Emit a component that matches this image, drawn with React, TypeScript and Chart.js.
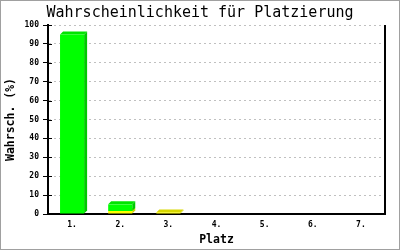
import React, { useEffect, useRef } from "react";
import { Chart, registerables } from "chart.js";

Chart.register(...registerables);

const categories = ["1.", "2.", "3.", "4.", "5.", "6.", "7."];
const yellowValues = [0, 1.6, 0.8, 0, 0, 0, 0];
const greenValues = [95, 3.5, 0, 0, 0, 0, 0];
const yTicks = [0, 10, 20, 30, 40, 50, 60, 70, 80, 90, 100];

const MONO = "'DejaVu Sans Mono', 'Liberation Mono', monospace";

const depthPlugin = {
  id: "depth3d",
  beforeDraw(chart: any) {
    const ctx = chart.ctx;
    ctx.save();
    ctx.fillStyle = "#ffffff";
    ctx.fillRect(0, 0, chart.width, chart.height);
    ctx.restore();
  },
  beforeDatasetsDraw(chart: any) {
    const ctx = chart.ctx;
    const d = 3;
    chart.data.datasets.forEach((ds: any, i: number) => {
      const meta = chart.getDatasetMeta(i);
      meta.data.forEach((el: any, j: number) => {
        const v = ds.data[j];
        if (!v) return;
        const p = el.getProps(["x", "y", "base", "width"], true);
        const l = p.x - p.width / 2;
        const r = p.x + p.width / 2;
        const t = Math.min(p.y, p.base);
        const b = Math.max(p.y, p.base);
        ctx.save();
        ctx.fillStyle = ds.sideColor;
        ctx.beginPath();
        ctx.moveTo(r, t);
        ctx.lineTo(r + d, t - d);
        ctx.lineTo(r + d, b - d);
        ctx.lineTo(r, b);
        ctx.closePath();
        ctx.fill();
        ctx.fillStyle = ds.topColor;
        ctx.beginPath();
        ctx.moveTo(l, t);
        ctx.lineTo(l + d, t - d);
        ctx.lineTo(r + d, t - d);
        ctx.lineTo(r, t);
        ctx.closePath();
        ctx.fill();
        ctx.restore();
      });
    });
  },
  afterDraw(chart: any) {
    const ctx = chart.ctx;
    const area = chart.chartArea;
    const ys = chart.scales.y;
    ctx.save();
    ctx.strokeStyle = "#000";
    ctx.lineWidth = 1;
    yTicks.forEach((t) => {
      const py = Math.round(ys.getPixelForValue(t)) + 0.5;
      ctx.beginPath();
      ctx.moveTo(area.left, py);
      ctx.lineTo(area.left + 4, py);
      ctx.stroke();
    });
    ctx.lineWidth = 2;
    ctx.beginPath();
    ctx.moveTo(area.right, area.top);
    ctx.lineTo(area.right, area.bottom);
    ctx.stroke();
    ctx.strokeStyle = "#a0a0a0";
    ctx.lineWidth = 1;
    ctx.strokeRect(0.5, 0.5, chart.width - 1, chart.height - 1);
    ctx.restore();
  },
};

export default function App() {
  const ref = useRef<HTMLCanvasElement | null>(null);
  useEffect(() => {
    document.body.style.margin = "0";
    const canvas = ref.current;
    if (!canvas) return;
    const chart = new Chart(canvas, {
      type: "bar",
      data: {
        labels: categories,
        datasets: [
          {
            label: "gelb",
            data: yellowValues,
            backgroundColor: "#ffff00",
            borderWidth: 0,
            sideColor: "#d0d000",
            topColor: "#d8d800",
          } as any,
          {
            label: "grün",
            data: greenValues,
            backgroundColor: "#00ff00",
            borderWidth: 0,
            sideColor: "#00c800",
            topColor: "#00e400",
          } as any,
        ],
      },
      options: {
        animation: false,
        responsive: false,
        maintainAspectRatio: false,
        layout: { padding: { left: 15, right: 15, top: 0, bottom: 0 } },
        datasets: { bar: { categoryPercentage: 1, barPercentage: 0.5 } },
        plugins: {
          legend: { display: false },
          tooltip: { enabled: false },
          title: {
            display: true,
            text: "Wahrscheinlichkeit für Platzierung",
            color: "#000",
            font: { family: MONO, size: 15, weight: "normal", lineHeight: 1.2 },
            padding: { top: 4, bottom: 3 },
          },
        },
        scales: {
          x: {
            stacked: true,
            grid: { display: false, drawTicks: false },
            border: { display: true, color: "#000", width: 2 },
            ticks: {
              color: "#000",
              font: { family: MONO, size: 8, weight: "bold" },
              padding: 6,
            },
            title: {
              display: true,
              text: "Platz",
              color: "#000",
              font: { family: MONO, size: 11.5, weight: "bold", lineHeight: 1.2 },
              padding: { top: 2, bottom: 3 },
            },
            afterFit: (s: any) => {
              s.height = 36;
            },
          },
          y: {
            stacked: true,
            min: 0,
            max: 100,
            afterBuildTicks: (s: any) => {
              s.ticks = yTicks.map((v) => ({ value: v }));
            },
            grid: {
              color: "#c0c0c0",
              tickColor: "#000",
              tickLength: 5,
              tickWidth: 1,
              lineWidth: 1,
            },
            border: { display: true, color: "#000", width: 2, dash: [2, 3] },
            ticks: {
              color: "#000",
              font: { family: MONO, size: 8, weight: "bold" },
              padding: 4,
            },
            title: {
              display: true,
              text: "Wahrsch. (%)",
              color: "#000",
              font: { family: MONO, size: 11.5, weight: "bold", lineHeight: 1.2 },
              padding: { top: -11, bottom: 0 },
            },
            afterFit: (s: any) => {
              s.width = 33;
            },
          },
        },
      } as any,
      plugins: [depthPlugin],
    });
    return () => chart.destroy();
  }, []);
  return (
    <canvas
      ref={ref}
      width={400}
      height={250}
      style={{ display: "block", width: 400, height: 250 }}
    />
  );
}
